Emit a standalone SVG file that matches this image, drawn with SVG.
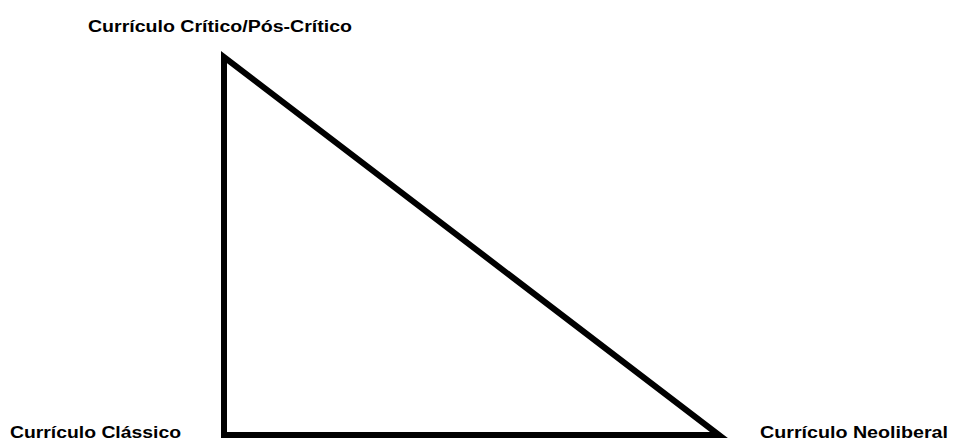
<svg xmlns="http://www.w3.org/2000/svg" width="953" height="440" viewBox="0 0 953 440">
<style>
.lbl{font-family:"Liberation Sans",Arial,sans-serif;font-weight:bold;font-size:16px;fill:#000}
.edge{fill:none;stroke:#000;stroke-width:6;stroke-linejoin:miter}
</style>
<rect width="953" height="440" fill="#fff"/>
<g id="connectors">
<polygon class="edge" points="224,57 224,435 719,435"/>
</g>
<g id="node-critico"><text class="lbl" x="88" y="32" textLength="264" lengthAdjust="spacingAndGlyphs">Currículo Crítico/Pós-Crítico</text></g>
<g id="node-classico"><text class="lbl" x="10" y="438" textLength="171" lengthAdjust="spacingAndGlyphs">Currículo Clássico</text></g>
<g id="node-neoliberal"><text class="lbl" x="760" y="438" textLength="188" lengthAdjust="spacingAndGlyphs">Currículo Neoliberal</text></g>
</svg>
